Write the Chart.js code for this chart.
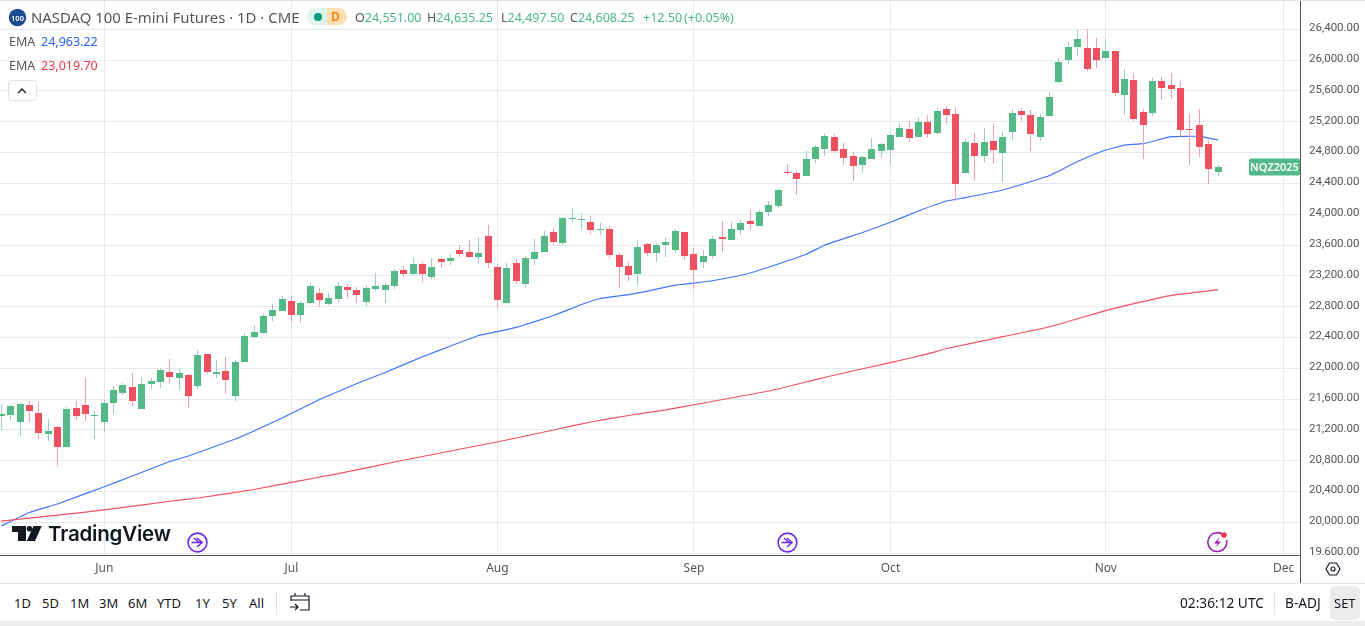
<!DOCTYPE html>
<html>
<head>
<meta charset="utf-8">
<title>NASDAQ 100 E-mini Futures</title>
<script src="https://cdn.jsdelivr.net/npm/chart.js@4"></script>
<style>
html, body { margin: 0; padding: 0; background: #fff; overflow: hidden; }
body { position: relative; width: 1365px; height: 626px; font-family: 'Noto Sans', sans-serif; color: #555; }
canvas { position: absolute; left: 0; top: 0; }
.t { position: absolute; white-space: nowrap; line-height: 16px; }
.h { font-size: 12.5px; top: 10px; }
.up { color: #4cb785; }
.tool { font-size: 13px; top: 595px; color: #131722; }
.sep { position: absolute; width: 1px; top: 592px; height: 23px; background: #e0e3eb; }
svg { position: absolute; overflow: visible; }
</style>
</head>
<body>
<canvas id="myChart_nq" width="1365" height="583"></canvas>

<!-- legend -->
<svg style="left:0;top:0" width="36" height="36">
	<circle cx="17.5" cy="17.5" r="8.7" fill="#1a4a8f"></circle>
</svg>
<div class="t" style="left:10px;top:9.5px;width:15px;text-align:center;font-size:7.5px;color:#fff;font-weight:600">100</div>
<div class="t" style="left:31px;top:9px;font-size:14.9px">NASDAQ 100 E-mini Futures · 1D · CME</div>
<div style="position:absolute;left:307px;top:8px;width:20px;height:17px;background:#dff3ef;border-radius:9px 0 0 9px"></div>
<div style="position:absolute;left:327px;top:8px;width:20px;height:17px;background:#ffe0b2;border-radius:0 9px 9px 0"></div>
<div style="position:absolute;left:314px;top:13px;width:8px;height:8px;background:#089981;border-radius:50%"></div>
<div class="t" style="left:331px;top:9px;font-size:12px;color:#f57c00;font-weight:600">D</div>
<div class="t h" style="left:355px">O<span class="up">24,551.00</span></div>
<div class="t h" style="left:427px">H<span class="up">24,635.25</span></div>
<div class="t h" style="left:501px">L<span class="up">24,497.50</span></div>
<div class="t h" style="left:570px">C<span class="up">24,608.25</span></div>
<div class="t h up" style="left:643px">+12.50</div>
<div class="t h up" style="left:684px">(+0.05%)</div>
<div class="t" style="left:9px;top:34px;font-size:12.5px">EMA</div>
<div class="t" style="left:41px;top:34px;font-size:12.5px;color:#2962ff">24,963.22</div>
<div class="t" style="left:9px;top:58px;font-size:12.5px">EMA</div>
<div class="t" style="left:41px;top:58px;font-size:12.5px;color:#f23645">23,019.70</div>
<div style="position:absolute;left:8px;top:80px;width:27px;height:19px;border:1px solid #e0e3eb;border-radius:3px;background:#fff"></div>
<svg style="left:0;top:0" width="40" height="100">
	<path d="M18 93 L22 89 L26 93" fill="none" stroke="#131722" stroke-width="1.4"></path>
</svg>

<!-- logo -->
<svg style="left:0;top:520px" width="50" height="30" fill="#131722">
	<path d="M12 6 H26 V21 H18 V12 H12 Z"></path>
	<circle cx="29.5" cy="8.8" r="2.8"></circle>
	<path d="M33.5 6 H41.7 L35 21 H26.8 Z"></path>
</svg>
<div class="t" style="left:48px;top:520px;font-family:Inter,sans-serif;font-size:20.5px;font-weight:600;line-height:28px;color:#131722;letter-spacing:-0.2px">TradingView</div>

<!-- event icons -->
<svg style="left:187px;top:532px" width="22" height="22" fill="none" stroke="#6a2be6" stroke-width="1.6">
	<circle cx="10.5" cy="10.5" r="9.4"></circle>
	<path d="M4.5 10.5 H15 M10 6 L15 10.5 L10 15 M7 6 L11.5 10"></path>
</svg>
<svg style="left:777px;top:532px" width="22" height="22" fill="none" stroke="#6a2be6" stroke-width="1.6">
	<circle cx="10.5" cy="10.5" r="9.4"></circle>
	<path d="M4.5 10.5 H15 M10 6 L15 10.5 L10 15 M7 6 L11.5 10"></path>
</svg>
<svg style="left:1207px;top:532px" width="22" height="22" fill="none" stroke="#9c27b0" stroke-width="1.6">
	<path d="M17.5 4 A9.4 9.4 0 1 0 19.5 8"></path>
	<path d="M12.5 5 L7 11.5 H10.5 L8.5 15.5 L14 9.5 H10.5 Z" fill="#9c27b0" stroke="none"></path>
	<circle cx="17" cy="3" r="2.8" fill="#f23645" stroke="none"></circle>
</svg>

<!-- settings hexagon -->
<svg style="left:1325px;top:561px" width="18" height="16" fill="none" stroke="#131722" stroke-width="1.2">
	<path d="M1 8 L4.5 2 H11.5 L15 8 L11.5 14 H4.5 Z"></path>
	<circle cx="8" cy="8" r="2"></circle>
</svg>

<!-- bottom toolbar -->
<div class="t tool" style="left:14px">1D</div>
<div class="t tool" style="left:42px">5D</div>
<div class="t tool" style="left:70px">1M</div>
<div class="t tool" style="left:99px">3M</div>
<div class="t tool" style="left:128px">6M</div>
<div class="t tool" style="left:157px">YTD</div>
<div class="t tool" style="left:195px">1Y</div>
<div class="t tool" style="left:222px">5Y</div>
<div class="t tool" style="left:249px">All</div>
<div class="sep" style="left:276px"></div>
<svg style="left:290px;top:592px" width="20" height="20" fill="none" stroke="#131722" stroke-width="1.2">
	<path d="M1 9 V4 H19 V18 H10 M1 8 H19 M5 1 V4 M15 1 V4 M0 15 H8 M5 12 L8 15 L5 18"></path>
</svg>
<div class="t tool" style="left:1180px;font-size:13.7px">02:36:12 UTC</div>
<div class="sep" style="left:1274px"></div>
<div class="t tool" style="left:1285px;font-size:13.7px">B-ADJ</div>
<div style="position:absolute;left:1330px;top:586px;width:30px;height:34px;background:#ebebeb;border-radius:5px"></div>
<div class="t tool" style="left:1334px">SET</div>
<div style="position:absolute;left:0;top:583px;width:1365px;height:1px;background:#e0e3eb"></div>
<div style="position:absolute;left:0;top:621px;width:1365px;height:5px;background:#ebebeb"></div>

<script>
// values, one per trading day
const opens = [21380, 21393, 21303, 21523, 21419, 21147, 21238, 20978, 21484, 21523, 21380, 21303, 21549, 21679, 21757, 21471, 21796, 21822, 21952, 21874, 21913, 21770, 22185, 21926, 21965, 21640, 22081, 22406, 22458, 22679, 22743, 22873, 22692, 22847, 22977, 22834, 22899, 23055, 23016, 22860, 23029, 23016, 23068, 23276, 23224, 23353, 23185, 23418, 23392, 23535, 23509, 23444, 23717, 23315, 22847, 23366, 23094, 23418, 23509, 23769, 23626, 23938, 23925, 23899, 23795, 23808, 23470, 23327, 23224, 23613, 23496, 23600, 23535, 23769, 23483, 23379, 23457, 23704, 23665, 23795, 23912, 23847, 24028, 24106, 24548, 24535, 24496, 24716, 24846, 25002, 24846, 24755, 24639, 24716, 24820, 24833, 25002, 25106, 25002, 25197, 25054, 25365, 25300, 24535, 24924, 24755, 24950, 24794, 25067, 25339, 25287, 25002, 25275, 25716, 26001, 26170, 26157, 26157, 26027, 26118, 25547, 25742, 25326, 25313, 25729, 25677, 25638, 25106, 25158, 24911, 24551];
const highs = [21536, 21523, 21549, 21575, 21575, 21342, 21251, 21497, 21575, 21874, 21445, 21588, 21770, 21809, 21939, 21887, 21874, 22004, 22120, 21991, 21926, 22237, 22185, 22107, 22146, 22107, 22458, 22562, 22705, 22834, 22938, 22925, 22873, 23107, 23042, 22977, 23120, 23094, 23055, 23081, 23237, 23107, 23289, 23328, 23431, 23379, 23431, 23431, 23483, 23600, 23665, 23704, 23860, 23353, 23366, 23418, 23457, 23678, 23782, 23808, 23964, 24080, 24016, 23977, 23886, 23847, 23496, 23379, 23665, 23626, 23626, 23704, 23808, 23769, 23561, 23535, 23717, 23912, 23899, 23925, 24054, 24054, 24171, 24327, 24651, 24561, 24820, 24898, 25041, 25041, 24924, 24807, 24755, 24989, 24924, 25054, 25184, 25210, 25262, 25287, 25378, 25404, 25391, 24976, 25054, 25119, 25184, 25067, 25365, 25378, 25352, 25300, 25586, 26027, 26235, 26391, 26404, 26287, 26274, 26118, 25885, 25833, 25365, 25768, 25781, 25833, 25729, 25300, 25365, 24963, 24635];
const lows = [21199, 21329, 21121, 21303, 21082, 21056, 20732, 20965, 21329, 21316, 21082, 21173, 21406, 21653, 21510, 21471, 21731, 21744, 21796, 21718, 21484, 21731, 21926, 21874, 21666, 21575, 22081, 22393, 22445, 22614, 22743, 22601, 22588, 22834, 22795, 22821, 22847, 22912, 22847, 22808, 23003, 22847, 23029, 23185, 23211, 23120, 23159, 23302, 23341, 23444, 23431, 23366, 23302, 22782, 22834, 23094, 23055, 23341, 23509, 23600, 23600, 23899, 23808, 23743, 23730, 23431, 23042, 23133, 23081, 23457, 23379, 23444, 23496, 23405, 23029, 23301, 23418, 23509, 23665, 23730, 23795, 23847, 23977, 24080, 24509, 24249, 24496, 24665, 24755, 24794, 24639, 24431, 24535, 24716, 24729, 24639, 25002, 24937, 25002, 24989, 25041, 25171, 24171, 24535, 24431, 24677, 24651, 24418, 24963, 25210, 24820, 24950, 25275, 25703, 25950, 26053, 25859, 25898, 26027, 25534, 25287, 25210, 24716, 25275, 25482, 25495, 25002, 24638, 24742, 24392, 24498];
const closes = [21406, 21510, 21536, 21445, 21160, 21186, 20978, 21471, 21380, 21406, 21393, 21549, 21718, 21783, 21575, 21796, 21835, 21978, 21887, 21939, 21640, 22172, 21952, 21952, 21848, 22081, 22419, 22471, 22679, 22756, 22899, 22692, 22847, 23068, 22886, 22912, 23068, 23016, 22951, 23042, 23068, 23081, 23263, 23224, 23353, 23224, 23315, 23379, 23431, 23483, 23444, 23496, 23366, 22886, 23302, 23133, 23431, 23509, 23717, 23639, 23951, 23951, 23938, 23795, 23808, 23470, 23315, 23211, 23574, 23496, 23600, 23639, 23782, 23457, 23275, 23457, 23678, 23678, 23808, 23886, 23873, 24028, 24119, 24314, 24535, 24457, 24716, 24872, 25015, 24820, 24729, 24626, 24742, 24846, 24911, 25028, 25119, 24989, 25197, 25041, 25339, 25287, 24392, 24937, 24755, 24937, 24833, 25002, 25314, 25287, 25041, 25262, 25521, 25975, 26170, 26274, 25885, 26001, 26118, 25573, 25755, 25236, 25158, 25729, 25638, 25625, 25093, 25093, 24872, 24586, 24608];

// the EMA lines, read at the day numbers next to them
const emaFastDays = [0, 3, 6, 11, 14, 18, 20, 25, 27, 30, 34, 38, 41, 45, 48, 51, 53, 55, 59, 62, 64, 67, 69, 72, 74, 77, 80, 83, 86, 88, 92, 95, 98, 101, 103, 107, 112, 115, 118, 120, 122, 125, 128, 130];
const emaFast = [19953, 20128, 20238, 20463, 20602, 20790, 20862, 21082, 21186, 21355, 21595, 21802, 21945, 22150, 22289, 22426, 22475, 22530, 22685, 22828, 22906, 22955, 23001, 23079, 23105, 23159, 23237, 23354, 23480, 23600, 23762, 23895, 24042, 24171, 24215, 24314, 24502, 24684, 24833, 24896, 24915, 25006, 25011, 24963];
const emaSlowDays = [0, 6, 11, 18, 21, 27, 31, 36, 42, 48, 54, 59, 63, 67, 71, 82, 87, 90, 95, 99, 101, 107, 112, 118, 120, 125, 130];
const emaSlow = [20015, 20093, 20161, 20274, 20316, 20427, 20520, 20633, 20784, 20926, 21069, 21199, 21303, 21387, 21461, 21705, 21853, 21939, 22074, 22188, 22257, 22410, 22539, 22749, 22811, 22947, 23020];

// axes
const monthDays = [11, 31, 53, 74, 95, 118, 137];
const monthLabels = ['Jun', 'Jul', 'Aug', 'Sep', 'Oct', 'Nov', 'Dec'];
const priceTicks = [19600, 20000, 20400, 20800, 21200, 21600, 22000, 22400, 22800, 23200, 23600, 24000, 24400, 24800, 25200, 25600, 26000, 26400];
const symbolTag = 'NQZ2025';

const green = '#53b987';
const red = '#ef5060';
const greenWick = '#9ccdca';
const redWick = '#f6a0ac';
const gridColor = '#e1eaf0';
const axisColor = '#555555';

const isUp = closes.map((c, i) => c >= opens[i]);

// snap candles to whole pixels, and draw the axis lines and the tag on top
const candlePlugin = {
	id: 'candlePlugin',
	beforeDatasetsDraw(chart) {
		chart.data.datasets.forEach((ds, d) => {
			if (ds.type === 'line') return;
			chart.getDatasetMeta(d).data.forEach(el => {
				el.x = Math.floor(el.x) + 0.5;
				el.y = Math.round(el.y);
				el.base = Math.round(el.base);
				if (el.y === el.base) el.base = el.y + 1;
			});
		});
	},
	afterDraw(chart) {
		const c = chart.ctx;
		const area = chart.chartArea;
		// the lowest price label is cut off by the time axis
		c.fillStyle = '#fff';
		c.fillRect(area.right, area.bottom, 64, 28);
		c.fillStyle = axisColor;
		c.fillRect(0, area.bottom, 1301, 1);
		c.fillRect(area.right - 1, 0, 1, 583);
		c.fillStyle = '#e0e3eb';
		c.fillRect(0, 0, 1365, 1);

		const y = Math.round(chart.scales.y.getPixelForValue(closes[closes.length - 1]));
		c.fillStyle = green;
		c.beginPath();
		c.roundRect(area.right - 52, y - 8.5, 51, 17, 2);
		c.fill();
		c.fillStyle = '#fff';
		c.font = "600 11px 'Noto Sans'";
		c.textAlign = 'center';
		c.textBaseline = 'middle';
		c.fillText(symbolTag, area.right - 26.5, y + 0.5);
	}
};

// Chart
const ctx = document.getElementById('myChart_nq').getContext('2d');
const myChart_nq = new Chart(ctx, {
	type: 'bar',
	data: {
		datasets: [{
			type: 'line',
			label: 'EMA',
			data: emaFastDays.map((d, i) => ({ x: d, y: emaFast[i] })),
			borderColor: '#3f74ff',
			borderWidth: 1.2,
			pointRadius: 0,
			tension: 0.1,
			order: 4,
		}, {
			type: 'line',
			label: 'EMA',
			data: emaSlowDays.map((d, i) => ({ x: d, y: emaSlow[i] })),
			borderColor: '#f2505f',
			borderWidth: 1.2,
			pointRadius: 0,
			tension: 0.1,
			order: 3,
		}, {
			label: 'High-Low',
			data: highs.map((h, i) => ({ x: i, y: [lows[i], h] })),
			backgroundColor: isUp.map(u => u ? greenWick : redWick),
			barThickness: 1,
			grouped: false,
			inflateAmount: 0,
			borderWidth: 0,
			order: 2,
		}, {
			label: 'Open-Close',
			data: opens.map((o, i) => ({ x: i, y: [o, closes[i]] })),
			backgroundColor: isUp.map(u => u ? green : red),
			barThickness: 7,
			grouped: false,
			inflateAmount: 0,
			borderWidth: 0,
			order: 1,
		}]
	},
	plugins: [candlePlugin],
	options: {
		responsive: false,
		animation: false,
		layout: { autoPadding: false, padding: 0 },
		events: [],
		scales: {
			x: {
				type: 'linear',
				offset: false,
				min: -0.139,
				max: 138.86,
				afterBuildTicks: scale => { scale.ticks = monthDays.map(v => ({ value: v })); },
				afterFit: scale => {
					scale.height = 28;
					scale.paddingLeft = 0;
					scale.paddingRight = 0;
				},
				ticks: {
					autoSkip: false,
					maxRotation: 0,
					padding: 6,
					color: '#555',
					font: { family: "'Noto Sans'", size: 12 },
					callback: value => monthLabels[monthDays.indexOf(value)],
				},
				grid: { offset: false, color: gridColor, drawTicks: false },
				border: { display: false },
			},
			y: {
				position: 'right',
				min: 19576.4,
				max: 26780.3,
				afterBuildTicks: scale => { scale.ticks = priceTicks.map(v => ({ value: v })); },
				afterFit: scale => {
					scale.width = 64;
					scale.paddingTop = 0;
					scale.paddingBottom = 0;
				},
				ticks: {
					padding: 8,
					color: '#555',
					// two lines with a small line height lift the label 1px above its grid line
					font: { family: "Roboto", size: 11.5, lineHeight: '2px' },
					callback: value => [value.toLocaleString('en-US', { minimumFractionDigits: 2 }), ''],
				},
				grid: { color: gridColor, drawTicks: false },
				border: { display: false },
			},
		},
		plugins: {
			legend: { display: false },
			title: { display: false },
			tooltip: { enabled: false },
		},
	},
});
</script>
</body>
</html>
